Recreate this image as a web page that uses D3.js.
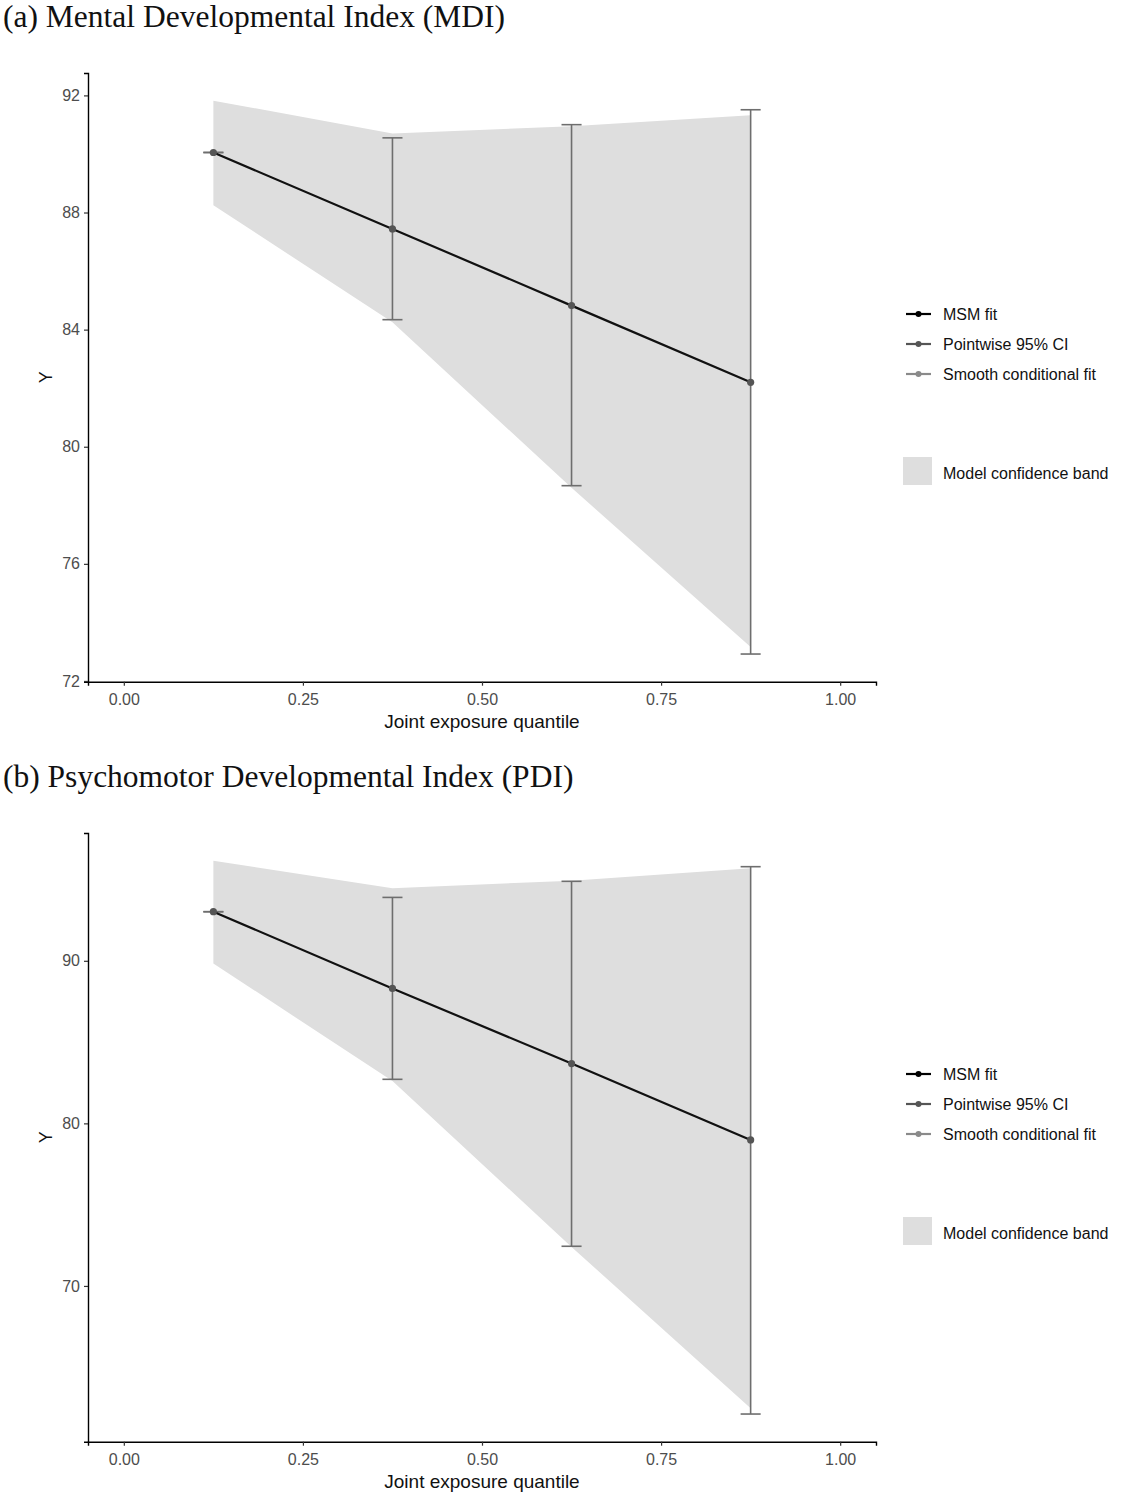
<!DOCTYPE html>
<html>
<head>
<meta charset="utf-8">
<script src="https://cdn.jsdelivr.net/npm/d3@7"></script>
<style>
  body { margin: 0; background: #fff; }
  svg { display: block; }
</style>
</head>
<body>
<svg id="chart" width="1121" height="1500"></svg>
<script>
// ---------- data ----------
const quantiles = [0.125, 0.375, 0.625, 0.875];
const xTicks = [0, 0.25, 0.5, 0.75, 1];

const mdiFit    = [90.05, 87.44, 84.82, 82.20];
const mdiCiLow  = [90.05, 84.34, 78.67, 72.92];
const mdiCiHigh = [90.05, 90.55, 91.00, 91.51];
const mdiBandLow  = [88.25, 84.25, 78.60, 73.16];
const mdiBandHigh = [91.82, 90.70, 90.95, 91.32];
const mdiTicks = [72, 76, 80, 84, 88, 92];

const pdiFit    = [93.02, 88.30, 83.68, 78.98];
const pdiCiLow  = [93.02, 82.71, 72.44, 62.12];
const pdiCiHigh = [93.02, 93.90, 94.89, 95.79];
const pdiBandLow  = [89.84, 82.60, 72.40, 62.48];
const pdiBandHigh = [96.16, 94.46, 94.93, 95.69];
const pdiTicks = [70, 80, 90];

const legendItems = ["MSM fit", "Pointwise 95% CI", "Smooth conditional fit"];
const legendBand = "Model confidence band";

const panels = [
  { title: "(a) Mental Developmental Index (MDI)", fit: mdiFit, lo: mdiCiLow, hi: mdiCiHigh,
    bLo: mdiBandLow, bHi: mdiBandHigh, ticks: mdiTicks, top: 0 },
  { title: "(b) Psychomotor Developmental Index (PDI)", fit: pdiFit, lo: pdiCiLow, hi: pdiCiHigh,
    bLo: pdiBandLow, bHi: pdiBandHigh, ticks: pdiTicks, top: 760 }
];

// ---------- drawing ----------
const svg = d3.select("#chart");
const sans = "'Liberation Sans', Arial, sans-serif";
const serif = "'Liberation Serif', 'Times New Roman', serif";
const legendColors = ["#000000", "#555555", "#8a8a8a"];

panels.forEach(p => {
  const g = svg.append("g").attr("transform", `translate(0,${p.top})`);
  const plotTop = 73, plotBottom = 681.7, plotLeft = 88, plotRight = 876;

  // title
  g.append("text").attr("x", 3).attr("y", 27)
    .attr("font-family", serif).attr("font-size", 31.5).attr("fill", "#111")
    .text(p.title);

  const x = d3.scaleLinear().domain([-0.05, 1.05]).range([plotLeft, plotRight]);
  const allVals = [...p.lo, ...p.hi, ...p.bLo, ...p.bHi, ...p.fit];
  const mn = d3.min(allVals), mx = d3.max(allVals), pad = (mx - mn) * 0.05;
  const y = d3.scaleLinear().domain([mn - pad, mx + pad]).range([plotBottom, plotTop]);

  const rows = quantiles.map((q, i) => ({ q, fit: p.fit[i], lo: p.lo[i], hi: p.hi[i], bLo: p.bLo[i], bHi: p.bHi[i] }));

  // band
  g.append("path").datum(rows)
    .attr("d", d3.area().x(d => x(d.q)).y0(d => y(d.bLo)).y1(d => y(d.bHi)))
    .attr("fill", "#dedede");

  // error bars
  const eb = g.append("g").attr("stroke", "#6e6e6e").attr("stroke-width", 1.6).attr("fill", "none");
  const capHalf = 0.014;
  rows.forEach(d => {
    eb.append("line").attr("x1", x(d.q)).attr("x2", x(d.q)).attr("y1", y(d.lo)).attr("y2", y(d.hi));
    eb.append("line").attr("x1", x(d.q - capHalf)).attr("x2", x(d.q + capHalf)).attr("y1", y(d.lo)).attr("y2", y(d.lo));
    eb.append("line").attr("x1", x(d.q - capHalf)).attr("x2", x(d.q + capHalf)).attr("y1", y(d.hi)).attr("y2", y(d.hi));
  });

  // fit line
  g.append("path").datum(rows)
    .attr("d", d3.line().x(d => x(d.q)).y(d => y(d.fit)))
    .attr("fill", "none").attr("stroke", "#111").attr("stroke-width", 2.2);

  // points
  g.selectAll("circle.pt").data(rows).enter().append("circle")
    .attr("cx", d => x(d.q)).attr("cy", d => y(d.fit)).attr("r", 3.6).attr("fill", "#555");

  // axes
  const xAxis = g.append("g").attr("transform", `translate(0,${plotBottom})`)
    .call(d3.axisBottom(x).tickValues(xTicks).tickFormat(d3.format(".2f")).tickSizeOuter(0).tickSize(4).tickPadding(8));
  const yAxis = g.append("g").attr("transform", `translate(${plotLeft},0)`)
    .call(d3.axisLeft(y).tickValues(p.ticks).tickFormat(d3.format("d")).tickSizeOuter(0).tickSize(4).tickPadding(4));
  [xAxis, yAxis].forEach(a => {
    a.select(".domain").attr("stroke", "#000").attr("stroke-width", 1.4);
    a.selectAll(".tick line").attr("stroke", "#333").attr("stroke-width", 1.2);
    a.selectAll(".tick text").attr("font-family", sans).attr("font-size", 16).attr("fill", "#4d4d4d");
  });

  // axis titles
  g.append("text").attr("x", (x(0) + x(1)) / 2).attr("y", 728).attr("text-anchor", "middle")
    .attr("font-family", sans).attr("font-size", 19).attr("fill", "#111").text("Joint exposure quantile");
  g.append("text").attr("transform", `translate(52,${(plotTop + plotBottom) / 2}) rotate(-90)`)
    .attr("text-anchor", "middle").attr("font-family", sans).attr("font-size", 18).attr("fill", "#111").text("Y");

  // legend
  const lg = g.append("g");
  legendItems.forEach((name, i) => {
    const ly = 314 + i * 30;
    lg.append("line").attr("x1", 906).attr("x2", 931).attr("y1", ly).attr("y2", ly)
      .attr("stroke", legendColors[i]).attr("stroke-width", 2.2);
    lg.append("circle").attr("cx", 918.5).attr("cy", ly).attr("r", 3).attr("fill", legendColors[i]);
    lg.append("text").attr("x", 943).attr("y", ly).attr("dy", "0.35em")
      .attr("font-family", sans).attr("font-size", 16).attr("fill", "#111").text(name);
  });
  lg.append("rect").attr("x", 903).attr("y", 457).attr("width", 29).attr("height", 28).attr("fill", "#dedede");
  lg.append("text").attr("x", 943).attr("y", 473).attr("dy", "0.35em")
    .attr("font-family", sans).attr("font-size", 16).attr("fill", "#111").text(legendBand);
});
</script>
</body>
</html>
